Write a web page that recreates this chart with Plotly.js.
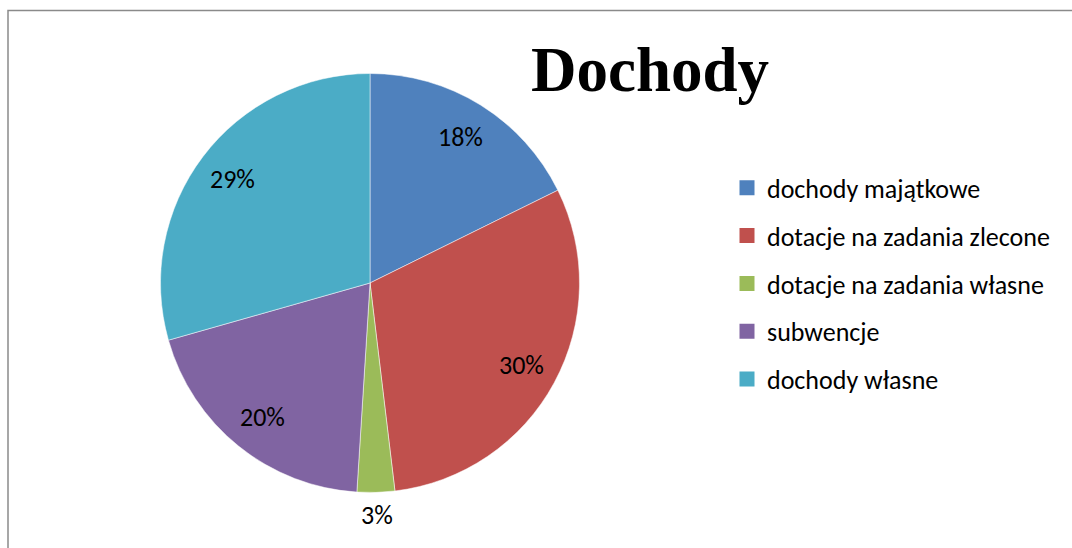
<!DOCTYPE html>
<html>
<head>
<meta charset="utf-8">
<script src="https://cdn.plot.ly/plotly-3.0.1.min.js"></script>
<style>html,body{margin:0;padding:0;background:#fff;}#chart{width:1072px;height:548px;}</style>
</head>
<body>
<div id="chart"></div>
<script>
const categories = ["dochody majątkowe", "dotacje na zadania zlecone", "dotacje na zadania własne", "subwencje", "dochody własne"];
const shares = [17.7, 30.4, 2.9, 19.6, 29.4];
const colors = ["#4F81BD", "#C0504D", "#9BBB59", "#8064A2", "#4BACC6"];
const labelPlacement = ["inside", "inside", "outside", "inside", "inside"];
const chartTitle = "Dochody";

const W = 1072, H = 548;
const FONT = "Calibri, Carlito, Lato, 'Open Sans', sans-serif";
const pieDomain = {x: [0.1497, 0.5406], y: [0.1013, 0.8659]};

const pie = {
  type: "pie",
  labels: categories,
  values: shares,
  sort: false,
  direction: "clockwise",
  rotation: 0,
  marker: {colors: colors, line: {color: "#ffffff", width: 0.5}},
  textinfo: "none",
  showlegend: false,
  hoverinfo: "label+percent",
  domain: pieDomain
};

// data labels placed along each slice's bisector (Excel-style best fit)
const total = shares.reduce((a, b) => a + b, 0);
const cxPx = (pieDomain.x[0] + pieDomain.x[1]) / 2 * W;
const cyPx = (1 - (pieDomain.y[0] + pieDomain.y[1]) / 2) * H;
const Rpx = Math.min((pieDomain.x[1] - pieDomain.x[0]) * W, (pieDomain.y[1] - pieDomain.y[0]) * H) / 2;
let cum = 0;
const labelAnnotations = shares.map((v, i) => {
  const mid = (cum + v / 2) / total;
  cum += v;
  const th = 2 * Math.PI * mid;
  const r = Rpx * (labelPlacement[i] === "inside" ? 0.82 : 1.11);
  const px = cxPx + r * Math.sin(th);
  const py = cyPx - r * Math.cos(th);
  return {
    xref: "paper", yref: "paper",
    x: px / W, y: 1 - py / H,
    xanchor: "center", yanchor: "middle",
    text: Math.round(v / total * 100) + "%",
    showarrow: false,
    font: {family: FONT, size: 26, color: "#000000"}
  };
});

const legendTraces = categories.map((c, i) => ({
  type: "scatter",
  mode: "markers",
  x: [null], y: [null],
  name: c,
  legendgroup: "g" + i,
  marker: {symbol: "square", size: 15, color: colors[i]},
  showlegend: true,
  hoverinfo: "skip"
}));

const layout = {
  width: W, height: H,
  margin: {l: 0, r: 0, t: 0, b: 0},
  paper_bgcolor: "#ffffff",
  plot_bgcolor: "rgba(0,0,0,0)",
  xaxis: {visible: false, domain: [0.99, 1]},
  yaxis: {visible: false, domain: [0.99, 1]},
  title: {
    text: "<b>" + chartTitle + "</b>",
    font: {family: "'Liberation Serif', 'Times New Roman', serif", size: 63, color: "#000000"},
    x: 0.6063, xanchor: "center",
    y: 0.915, yanchor: "top"
  },
  showlegend: true,
  legend: {
    x: 727 / W, xanchor: "left",
    y: 0.70, yanchor: "top",
    traceorder: "grouped",
    tracegroupgap: 11,
    font: {family: FONT, size: 26, color: "#000000"},
    bgcolor: "rgba(0,0,0,0)"
  },
  annotations: labelAnnotations,
  shapes: [{
    type: "rect", xref: "paper", yref: "paper",
    x0: 8 / W, x1: 1.01, y0: -0.05, y1: 1 - 10.5 / H,
    line: {color: "#8a8a8a", width: 1.5}
  }]
};

Plotly.newPlot("chart", [pie].concat(legendTraces), layout, {displayModeBar: false, staticPlot: true});
</script>
</body>
</html>
